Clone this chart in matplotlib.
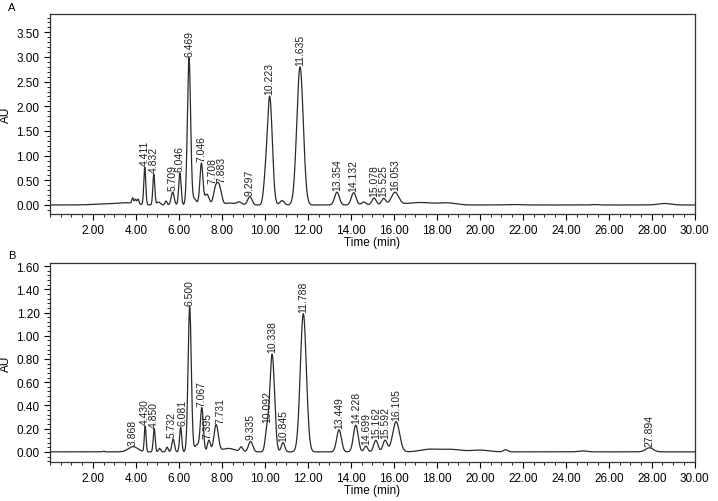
"""Two HPLC chromatograms (A, B) rebuilt from their peak tables."""

import matplotlib

matplotlib.use("Agg")
import matplotlib.pyplot as plt
import numpy as np
from matplotlib.ticker import AutoMinorLocator, FormatStrFormatter, MultipleLocator

plt.rcParams["font.family"] = ["Liberation Sans", "DejaVu Sans"]

# ---- peak tables: retention time (min), height (AU), width sigma (min), label
a_times = [2.6, 3.6, 3.85, 3.98, 4.1, 4.411, 4.832, 5.05, 5.4, 5.709, 6.046, 6.469, 6.72,
           7.046, 7.3, 7.708, 7.883, 8.35, 8.8, 9.297, 10.0, 10.223, 10.8, 11.635,
           13.354, 14.132, 14.6, 15.078, 15.525, 16.053, 17.2, 18.5, 21.5, 25.3, 28.6]
a_heights = [0.02, 0.04, 0.11, 0.09, 0.1, 0.76, 0.62, 0.06, 0.08, 0.26, 0.65, 2.98, 0.12,
             0.84, 0.22, 0.33, 0.34, 0.04, 0.06, 0.17, 0.3, 2.2, 0.09, 2.8,
             0.26, 0.25, 0.06, 0.14, 0.13, 0.25, 0.05, 0.04, 0.01, 0.01, 0.03]
a_widths = [0.6, 0.4, 0.04, 0.04, 0.04, 0.045, 0.045, 0.08, 0.05, 0.07, 0.055, 0.075, 0.1,
            0.07, 0.1, 0.1, 0.1, 0.2, 0.12, 0.1, 0.08, 0.12, 0.1, 0.15,
            0.11, 0.11, 0.1, 0.1, 0.1, 0.17, 0.6, 0.4, 0.3, 0.15, 0.3]
a_labels = ["", "", "", "", "", "4.411", "4.832", "", "", "5.709", "6.046", "6.469", "",
            "7.046", "", "7.708", "7.883", "", "", "9.297", "", "10.223", "", "11.635",
            "13.354", "14.132", "", "15.078", "15.525", "16.053", "", "", "", "", ""]

b_times = [2.5, 3.868, 4.430, 4.850, 5.1, 5.45, 5.732, 6.081, 6.500, 6.85, 7.067, 7.395,
           7.731, 8.3, 8.9, 9.335, 10.092, 10.338, 10.845, 11.788, 13.449, 14.228, 14.699,
           15.162, 15.592, 16.105, 17.6, 18.6, 20.0, 21.2, 24.8, 27.894]
b_heights = [0.005, 0.045, 0.22, 0.2, 0.03, 0.04, 0.11, 0.21, 1.25, 0.06, 0.37, 0.1,
             0.23, 0.03, 0.04, 0.09, 0.17, 0.84, 0.08, 1.19, 0.19, 0.23, 0.05,
             0.1, 0.1, 0.26, 0.02, 0.022, 0.015, 0.018, 0.008, 0.035]
b_widths = [0.05, 0.22, 0.04, 0.045, 0.05, 0.05, 0.06, 0.05, 0.075, 0.12, 0.07, 0.07,
            0.1, 0.3, 0.07, 0.1, 0.08, 0.11, 0.08, 0.14, 0.11, 0.11, 0.08,
            0.1, 0.1, 0.16, 0.4, 0.5, 0.4, 0.1, 0.2, 0.18]
b_labels = ["", "3.868", "4.430", "4.850", "", "", "5.732", "6.081", "6.500", "", "7.067",
            "7.395", "7.731", "", "", "9.335", "10.092", "10.338", "10.845", "11.788",
            "13.449", "14.228", "14.699", "15.162", "15.592", "16.105", "", "", "", "", "",
            "27.894"]

x_ticks = [2, 4, 6, 8, 10, 12, 14, 16, 18, 20, 22, 24, 26, 28, 30]

# sideways nudges (points) for crowded labels, as the integrator printed them
LABEL_NUDGE = {"7.708": -2.5, "7.883": 1.5, "5.732": -1.0, "6.081": 1.5,
               "7.395": -1.0, "7.731": 3.0}

t = np.linspace(0, 30, 3001)


def trace(times, heights, widths):
    y = np.zeros_like(t)
    for c, h, w in zip(times, heights, widths):
        y += h * np.exp(-0.5 * ((t - c) / w) ** 2)
    return y


def panel(ax, times, heights, widths, labels, ylim, ystep):
    y = trace(times, heights, widths)
    ax.plot(t, y, color="#2b2b2b", lw=0.9)
    for c, lab in zip(times, labels):
        if not lab:
            continue
        top = np.interp(c, t, y)
        ax.annotate(lab, (c, top), xytext=(LABEL_NUDGE.get(lab, 0.0), 1.5),
                    textcoords="offset points", rotation=90,
                    ha="center", va="bottom", fontsize=7.5, color="#222222")
    ax.set_xlim(0, 30)
    ax.set_ylim(*ylim)
    ax.set_xticks(x_ticks)
    ax.xaxis.set_major_formatter(FormatStrFormatter("%.2f"))
    ax.xaxis.set_minor_locator(MultipleLocator(0.5))
    ax.yaxis.set_major_locator(MultipleLocator(ystep))
    ax.yaxis.set_major_formatter(FormatStrFormatter("%.2f"))
    ax.yaxis.set_minor_locator(AutoMinorLocator(5))
    ax.tick_params(which="major", direction="out", length=4, width=0.8, labelsize=8.5)
    ax.tick_params(which="minor", direction="out", length=2, width=0.6)
    ax.set_ylabel("AU", fontsize=8.5)
    ax.yaxis.set_label_coords(-0.059, 0.5)
    ax.set_xlabel("Time (min)", fontsize=8.5)
    ax.xaxis.set_label_coords(0.5, -0.11)
    for s in ax.spines.values():
        s.set_linewidth(0.9)
        s.set_color("#333333")


fig = plt.figure(figsize=(7.18, 5.02), dpi=100)
ax_a = fig.add_axes([0.0696, 0.572, 0.898, 0.398])
ax_b = fig.add_axes([0.0696, 0.078, 0.898, 0.396])

panel(ax_a, a_times, a_heights, a_widths, a_labels, (-0.18, 3.87), 0.5)
panel(ax_b, b_times, b_heights, b_widths, b_labels, (-0.086, 1.626), 0.2)

fig.text(0.011, 0.984, "A", fontsize=8, va="center")
fig.text(0.011, 0.49, "B", fontsize=8, va="center")

fig.savefig("out.png", dpi=100)
